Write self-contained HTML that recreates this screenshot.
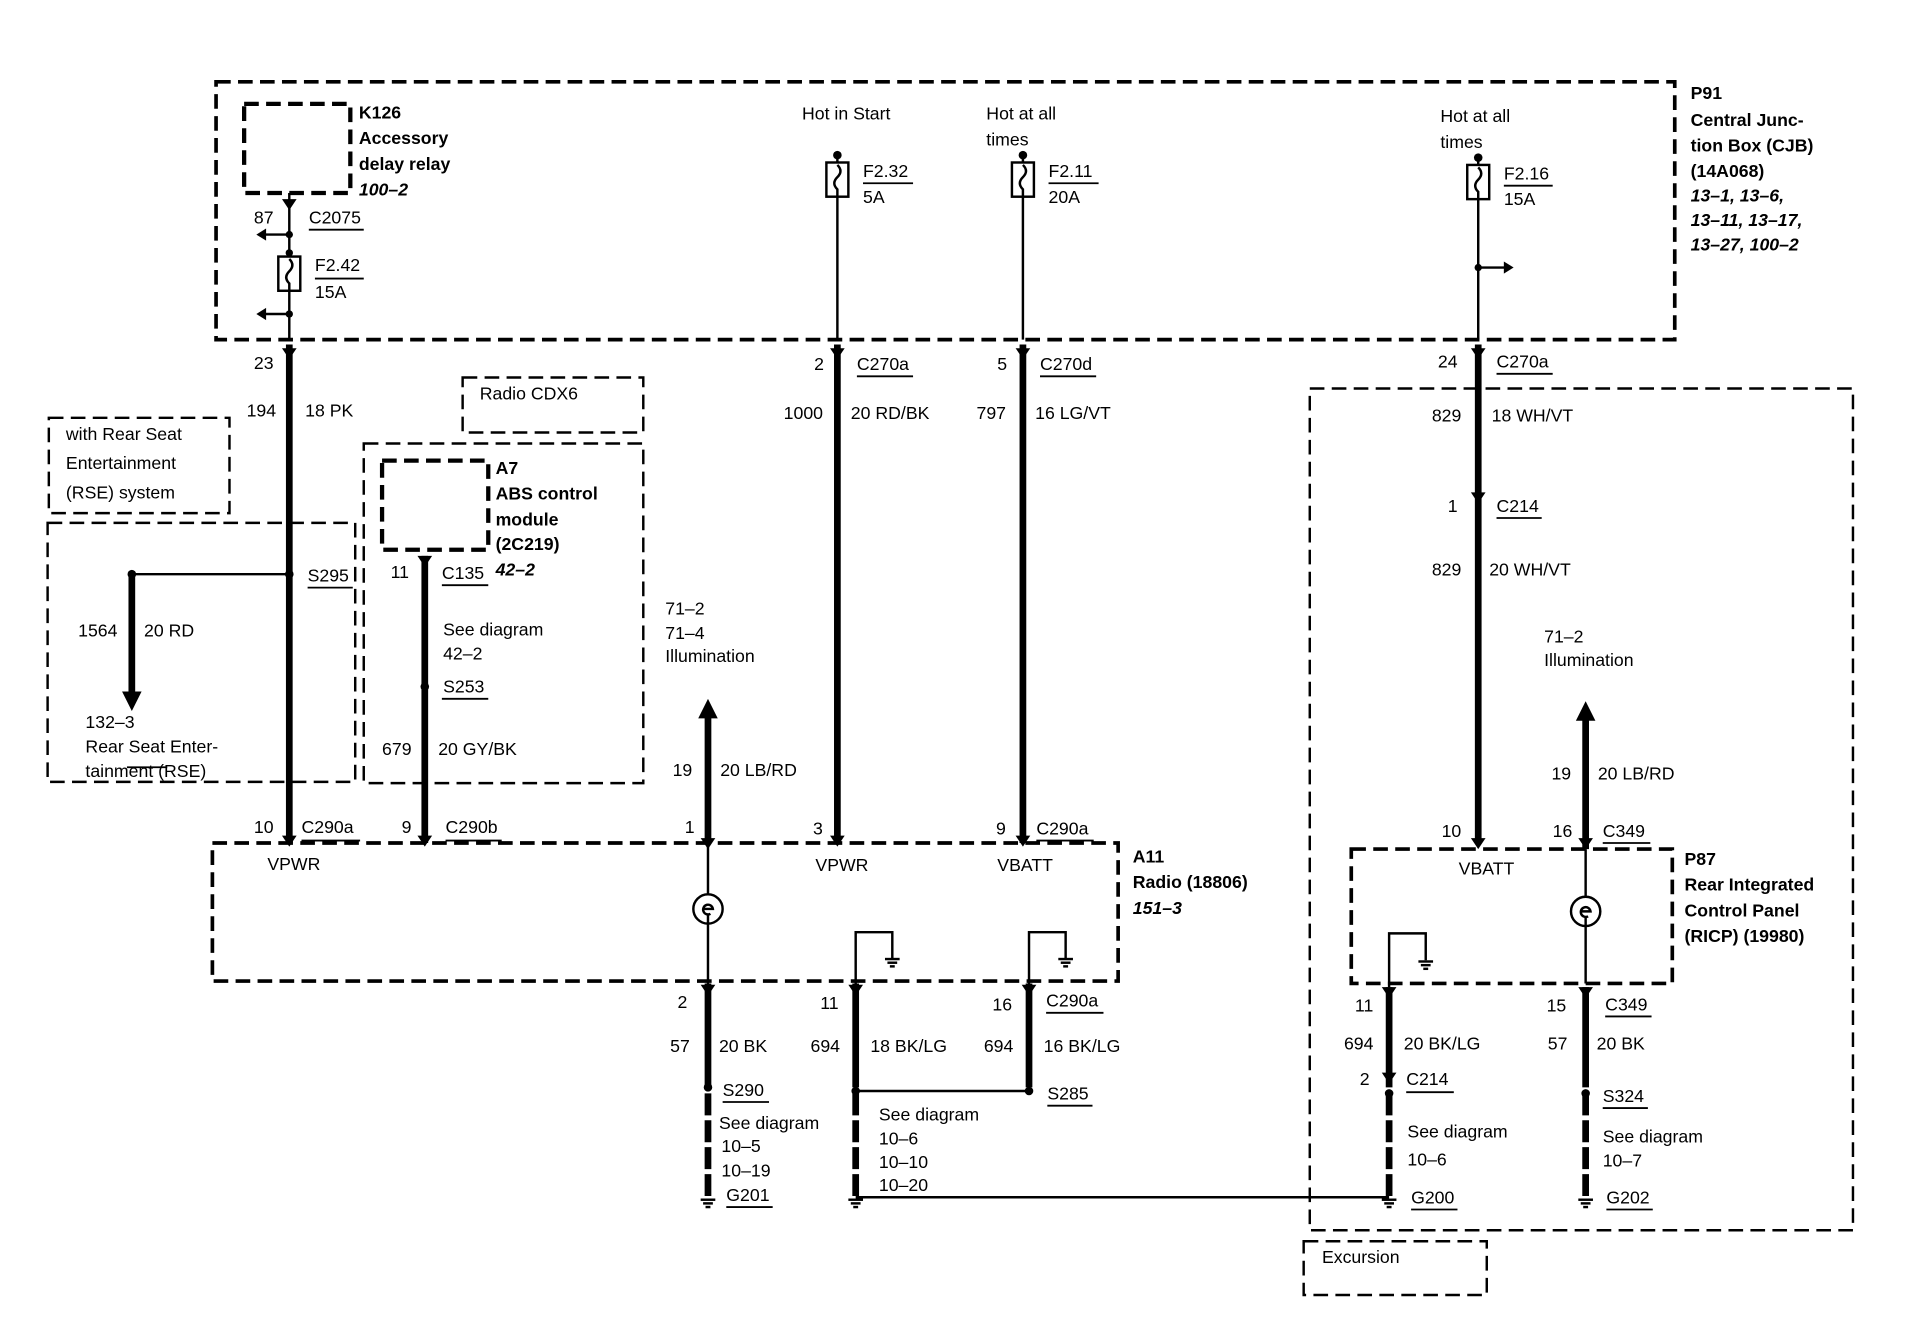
<!DOCTYPE html>
<html><head><meta charset="utf-8"><style>
html,body{margin:0;padding:0;background:#fff;}
svg{display:block}
text{font-family:"Liberation Sans",Arial,sans-serif;font-size:14.5px;fill:#000}
.b{font-weight:bold}
.i{font-style:italic;font-weight:bold}
</style></head><body>
<svg width="1914" height="1328" viewBox="0 0 1568 1087" preserveAspectRatio="none" xmlns="http://www.w3.org/2000/svg">
<defs>
<g id="gnd" stroke="#000" stroke-width="2"><line x1="-6" y1="0" x2="6" y2="0"/><line x1="-4" y1="3" x2="4" y2="3"/><line x1="-2" y1="6" x2="2" y2="6"/></g>
</defs>
<g fill="none" stroke="#000" stroke-dasharray="12,6">
<rect x="177" y="67" width="1195" height="211" stroke-width="3"/>
<rect x="200" y="85" width="87" height="73" stroke-width="3.5"/>
<rect x="174" y="690" width="742" height="113" stroke-width="3"/>
<rect x="1107" y="695" width="263" height="110" stroke-width="3"/>
<rect x="1073" y="318" width="445" height="689" stroke-width="2"/>
<rect x="1068" y="1016" width="150" height="44" stroke-width="2"/>
<rect x="40" y="342" width="148" height="78" stroke-width="2"/>
<rect x="39" y="428" width="252" height="212" stroke-width="2"/>
<rect x="379" y="309" width="148" height="45" stroke-width="2"/>
<rect x="298" y="363" width="229" height="278" stroke-width="2"/>
<rect x="313" y="377" width="87" height="73" stroke-width="3.5"/>
</g>
<g stroke="#000" fill="none">
<line x1="237" y1="158" x2="237" y2="278" stroke-width="2"/>
<line x1="686" y1="128" x2="686" y2="278" stroke-width="2"/>
<line x1="838" y1="128" x2="838" y2="278" stroke-width="2"/>
<line x1="1211" y1="128" x2="1211" y2="278" stroke-width="2"/>
<line x1="212" y1="192" x2="237" y2="192" stroke-width="2"/>
<line x1="212" y1="257" x2="237" y2="257" stroke-width="2"/>
<line x1="1211" y1="219" x2="1236" y2="219" stroke-width="2"/>
<g stroke-width="5.5">
<line x1="237" y1="282" x2="237" y2="690"/>
<line x1="348" y1="455" x2="348" y2="690"/>
<line x1="580" y1="585" x2="580" y2="690"/>
<line x1="686" y1="282" x2="686" y2="690"/>
<line x1="838" y1="282" x2="838" y2="690"/>
<line x1="1211" y1="282" x2="1211" y2="690"/>
<line x1="1299" y1="585" x2="1299" y2="695"/>
<line x1="108" y1="470" x2="108" y2="570"/>
<line x1="580" y1="805" x2="580" y2="890"/>
<line x1="701" y1="805" x2="701" y2="890"/>
<line x1="843" y1="805" x2="843" y2="890"/>
<line x1="1138" y1="808" x2="1138" y2="890"/>
<line x1="1299" y1="808" x2="1299" y2="890"/>
</g>
<g stroke-width="5.5" stroke-dasharray="18,4">
<line x1="580" y1="895" x2="580" y2="980"/>
<line x1="701" y1="895" x2="701" y2="980"/>
<line x1="1138" y1="895" x2="1138" y2="980"/>
<line x1="1299" y1="895" x2="1299" y2="980"/>
</g>
<line x1="108" y1="470" x2="237" y2="470" stroke-width="2"/>
<line x1="701" y1="893" x2="843" y2="893" stroke-width="2"/>
<line x1="701" y1="980" x2="1138" y2="980" stroke-width="2"/>
<line x1="580" y1="690" x2="580" y2="805" stroke-width="2"/>
<line x1="1299" y1="695" x2="1299" y2="805" stroke-width="2"/>
<polyline points="701,805 701,763 731,763 731,785" stroke-width="2"/>
<polyline points="843,805 843,763 873,763 873,785" stroke-width="2"/>
<polyline points="1138,808 1138,764 1168,764 1168,786" stroke-width="2"/>
<circle cx="580" cy="744" r="12" stroke-width="2" fill="#fff"/>
<circle cx="1299" cy="746" r="12" stroke-width="2" fill="#fff"/>
<path d="M576 744 h8 a4 4 0 1 0 -2 4" stroke-width="2"/>
<path d="M1295 746 h8 a4 4 0 1 0 -2 4" stroke-width="2"/>
<line x1="580" y1="748" x2="580" y2="756" stroke-width="2"/>
<line x1="1299" y1="750" x2="1299" y2="758" stroke-width="2"/>
<rect x="228" y="210" width="18" height="28" stroke-width="2" fill="#fff"/>
<rect x="677" y="133" width="18" height="28" stroke-width="2" fill="#fff"/>
<rect x="829" y="133" width="18" height="28" stroke-width="2" fill="#fff"/>
<rect x="1202" y="135" width="18" height="28" stroke-width="2" fill="#fff"/>
<path d="M237 212 q5 5 0 10 q-5 5 0 10 l0 6" stroke-width="2"/>
<path d="M686 135 q5 5 0 10 q-5 5 0 10 l0 6" stroke-width="2"/>
<path d="M838 135 q5 5 0 10 q-5 5 0 10 l0 6" stroke-width="2"/>
<path d="M1211 137 q5 5 0 10 q-5 5 0 10 l0 6" stroke-width="2"/>
<g stroke-width="1.5">
<line x1="253" y1="188" x2="298" y2="188"/><line x1="258" y1="228" x2="298" y2="228"/>
<line x1="707" y1="150" x2="748" y2="150"/><line x1="859" y1="150" x2="900" y2="150"/>
<line x1="1232" y1="152" x2="1272" y2="152"/>
<line x1="702" y1="308" x2="748" y2="308"/><line x1="852" y1="308" x2="898" y2="308"/>
<line x1="1226" y1="306" x2="1272" y2="306"/><line x1="1226" y1="424" x2="1263" y2="424"/>
<line x1="252" y1="481" x2="289" y2="481"/><line x1="362" y1="479" x2="400" y2="479"/>
<line x1="362" y1="572" x2="400" y2="572"/>
<line x1="247" y1="688" x2="295" y2="688"/><line x1="365" y1="688" x2="411" y2="688"/>
<line x1="849" y1="688" x2="896" y2="688"/><line x1="1313" y1="690" x2="1352" y2="690"/>
<line x1="857" y1="829" x2="904" y2="829"/><line x1="1315" y1="832" x2="1353" y2="832"/>
<line x1="1152" y1="894" x2="1191" y2="894"/>
<line x1="592" y1="902" x2="630" y2="902"/><line x1="858" y1="905" x2="895" y2="905"/>
<line x1="1313" y1="907" x2="1350" y2="907"/>
<line x1="595" y1="988" x2="633" y2="988"/><line x1="1156" y1="990" x2="1194" y2="990"/>
<line x1="1316" y1="990" x2="1354" y2="990"/>
<line x1="104" y1="628" x2="137" y2="628"/>
</g>
</g>
<g fill="#000">
<polygon points="210,192 218,187 218,197"/><polygon points="210,257 218,252 218,262"/>
<polygon points="1240,219 1232,214 1232,224"/>
<polygon points="108,582 100,566 116,566"/>
<polygon points="580,572 572,588 588,588"/><polygon points="1299,574 1291,590 1307,590"/>
<circle cx="237" cy="192" r="3"/><circle cx="237" cy="257" r="3"/><circle cx="237" cy="207" r="3"/>
<circle cx="686" cy="127" r="3.5"/><circle cx="838" cy="127" r="3.5"/><circle cx="1211" cy="129" r="3.5"/>
<circle cx="1211" cy="219" r="3"/>
<circle cx="108" cy="470" r="3.5"/><circle cx="237" cy="470" r="3.5"/>
<circle cx="348" cy="562" r="3.5"/>
<circle cx="580" cy="890" r="3.5"/><circle cx="701" cy="893" r="3.5"/><circle cx="843" cy="893" r="3.5"/>
<circle cx="1138" cy="895" r="3.5"/><circle cx="1299" cy="895" r="3.5"/>
<polygon points="231,163 243,163 237,172"/><polygon points="231,285 243,285 237,294"/>
<polygon points="231,684 243,684 237,693"/><polygon points="342,455 354,455 348,464"/>
<polygon points="342,684 354,684 348,693"/><polygon points="680,285 692,285 686,294"/>
<polygon points="680,684 692,684 686,693"/><polygon points="832,285 844,285 838,294"/>
<polygon points="832,684 844,684 838,693"/><polygon points="1205,285 1217,285 1211,294"/>
<polygon points="1205,403 1217,403 1211,412"/><polygon points="1205,686 1217,686 1211,695"/>
<polygon points="1293,686 1305,686 1299,695"/><polygon points="574,686 586,686 580,695"/>
<polygon points="574,806 586,806 580,815"/><polygon points="695,806 707,806 701,815"/>
<polygon points="837,806 849,806 843,815"/><polygon points="1132,808 1144,808 1138,817"/>
<polygon points="1293,808 1305,808 1299,817"/><polygon points="1132,878 1144,878 1138,887"/>
</g>
<use href="#gnd" x="580" y="982"/><use href="#gnd" x="701" y="982"/><use href="#gnd" x="1138" y="982"/><use href="#gnd" x="1299" y="982"/>
<use href="#gnd" x="731" y="785"/><use href="#gnd" x="873" y="785"/><use href="#gnd" x="1168" y="787"/>
<text x="294" y="97" class="b">K126</text><text x="294" y="118" class="b">Accessory</text>
<text x="294" y="139" class="b">delay relay</text><text x="294" y="160" class="i">100–2</text>
<text x="208" y="183">87</text><text x="253" y="183">C2075</text>
<text x="258" y="222">F2.42</text><text x="258" y="244">15A</text>
<text x="657" y="98">Hot in Start</text>
<text x="808" y="98">Hot at all</text><text x="808" y="119">times</text>
<text x="1180" y="100">Hot at all</text><text x="1180" y="121">times</text>
<text x="707" y="145">F2.32</text><text x="707" y="166">5A</text>
<text x="859" y="145">F2.11</text><text x="859" y="166">20A</text>
<text x="1232" y="147">F2.16</text><text x="1232" y="168">15A</text>
<text x="1385" y="81" class="b">P91</text><text x="1385" y="103" class="b">Central Junc-</text>
<text x="1385" y="124" class="b">tion Box (CJB)</text><text x="1385" y="145" class="b">(14A068)</text>
<text x="1385" y="165" class="i">13–1, 13–6,</text><text x="1385" y="185" class="i">13–11, 13–17,</text>
<text x="1385" y="205" class="i">13–27, 100–2</text>
<text x="208" y="302">23</text>
<text x="667" y="303">2</text><text x="702" y="303">C270a</text>
<text x="817" y="303">5</text><text x="852" y="303">C270d</text>
<text x="1178" y="301">24</text><text x="1226" y="301">C270a</text>
<text x="202" y="341">194</text><text x="250" y="341">18 PK</text>
<text x="642" y="343">1000</text><text x="697" y="343">20 RD/BK</text>
<text x="800" y="343">797</text><text x="848" y="343">16 LG/VT</text>
<text x="1173" y="345">829</text><text x="1222" y="345">18 WH/VT</text>
<text x="1186" y="419">1</text><text x="1226" y="419">C214</text>
<text x="1173" y="471">829</text><text x="1220" y="471">20 WH/VT</text>
<text x="393" y="327">Radio CDX6</text>
<text x="54" y="360">with Rear Seat</text><text x="54" y="384">Entertainment</text><text x="54" y="408">(RSE) system</text>
<text x="406" y="388" class="b">A7</text><text x="406" y="409" class="b">ABS control</text>
<text x="406" y="430" class="b">module</text><text x="406" y="450" class="b">(2C219)</text>
<text x="406" y="471" class="i">42–2</text>
<text x="320" y="473">11</text><text x="362" y="474">C135</text>
<text x="252" y="476">S295</text>
<text x="64" y="521">1564</text><text x="118" y="521">20 RD</text>
<text x="363" y="520">See diagram</text><text x="363" y="540">42–2</text>
<text x="363" y="567">S253</text>
<text x="70" y="596">132–3</text><text x="70" y="616">Rear Seat Enter-</text><text x="70" y="636">tainment (RSE)</text>
<text x="313" y="618">679</text><text x="359" y="618">20 GY/BK</text>
<text x="545" y="503">71–2</text><text x="545" y="523">71–4</text><text x="545" y="542">Illumination</text>
<text x="1265" y="526">71–2</text><text x="1265" y="545">Illumination</text>
<text x="551" y="635">19</text><text x="590" y="635">20 LB/RD</text>
<text x="1271" y="638">19</text><text x="1309" y="638">20 LB/RD</text>
<text x="208" y="682">10</text><text x="247" y="682">C290a</text>
<text x="329" y="682">9</text><text x="365" y="682">C290b</text>
<text x="561" y="682">1</text><text x="666" y="683">3</text>
<text x="816" y="683">9</text><text x="849" y="683">C290a</text>
<text x="1181" y="685">10</text><text x="1272" y="685">16</text><text x="1313" y="685">C349</text>
<text x="219" y="712">VPWR</text><text x="668" y="713">VPWR</text><text x="817" y="713">VBATT</text>
<text x="1195" y="716">VBATT</text>
<text x="928" y="706" class="b">A11</text><text x="928" y="727" class="b">Radio (18806)</text>
<text x="928" y="748" class="i">151–3</text>
<text x="1380" y="708" class="b">P87</text><text x="1380" y="729" class="b">Rear Integrated</text>
<text x="1380" y="750" class="b">Control Panel</text><text x="1380" y="771" class="b">(RICP) (19980)</text>
<text x="555" y="825">2</text><text x="672" y="826">11</text><text x="813" y="827">16</text>
<text x="857" y="824">C290a</text>
<text x="1110" y="828">11</text><text x="1267" y="828">15</text><text x="1315" y="827">C349</text>
<text x="549" y="861">57</text><text x="589" y="861">20 BK</text>
<text x="664" y="861">694</text><text x="713" y="861">18 BK/LG</text>
<text x="806" y="861">694</text><text x="855" y="861">16 BK/LG</text>
<text x="1101" y="859">694</text><text x="1150" y="859">20 BK/LG</text>
<text x="1268" y="859">57</text><text x="1308" y="859">20 BK</text>
<text x="1114" y="888">2</text><text x="1152" y="888">C214</text>
<text x="592" y="897">S290</text><text x="858" y="900">S285</text><text x="1313" y="902">S324</text>
<text x="589" y="924">See diagram</text><text x="591" y="943">10–5</text><text x="591" y="963">10–19</text>
<text x="720" y="917">See diagram</text><text x="720" y="937">10–6</text><text x="720" y="956">10–10</text><text x="720" y="975">10–20</text>
<text x="1153" y="931">See diagram</text><text x="1153" y="954">10–6</text>
<text x="1313" y="935">See diagram</text><text x="1313" y="955">10–7</text>
<text x="595" y="983">G201</text><text x="1156" y="985">G200</text><text x="1316" y="985">G202</text>
<text x="1083" y="1034">Excursion</text>
</svg>
</body></html>
